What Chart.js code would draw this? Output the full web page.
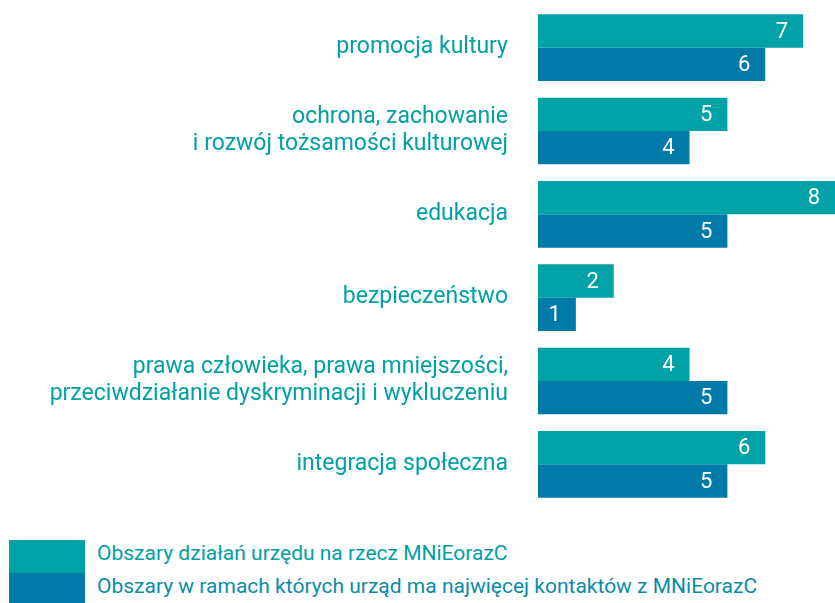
<!DOCTYPE html>
<html>
<head>
<meta charset="utf-8">
<script src="https://cdn.jsdelivr.net/npm/chart.js@4"></script>
<style>
  html, body { margin: 0; padding: 0; background: #fff; }
  body { width: 835px; height: 603px; position: relative; overflow: hidden; font-family: Roboto, sans-serif; }
  #wrap { position: absolute; left: 0; top: 0; width: 835px; height: 512px; }
  .legend { position: absolute; left: 9px; top: 540px; }
  .item { position: relative; height: 33px; }
  .item .box { position: absolute; left: 0; top: 0; width: 76px; height: 100%; }
  .item span { position: absolute; left: 88px; top: 1px; font-size: 21px; white-space: nowrap; }
</style>
</head>
<body>
<div id="wrap"><canvas id="chart"></canvas></div>
<div class="legend" id="legend"></div>

<script>
// data
const categories = [
  "promocja kultury",
  ["ochrona, zachowanie", "i rozwój tożsamości kulturowej"],
  "edukacja",
  "bezpieczeństwo",
  ["prawa człowieka, prawa mniejszości,", "przeciwdziałanie dyskryminacji i wykluczeniu"],
  "integracja społeczna"
];
const activityAreas = [7, 5, 8, 2, 4, 6];
const contactAreas = [6, 4, 5, 1, 5, 5];
const seriesNames = [
  "Obszary działań urzędu na rzecz MNiEorazC",
  "Obszary w ramach których urząd ma najwięcej kontaktów z MNiEorazC"
];
const seriesColors = ["#00A2A6", "#007AA9"];
const textColor = "#00A0A4";

// value labels inside bar ends
const valueLabels = {
  id: "valueLabels",
  afterDatasetsDraw(chart) {
    const ctx = chart.ctx;
    ctx.save();
    ctx.font = "22px Roboto";
    ctx.fillStyle = "#fff";
    ctx.textAlign = "right";
    ctx.textBaseline = "middle";
    chart.data.datasets.forEach((ds, i) => {
      chart.getDatasetMeta(i).data.forEach((bar, j) => {
        const x = Math.min(bar.x, chart.chartArea.right);
        ctx.fillText(ds.data[j], x - 15, bar.y + 1);
      });
    });
    ctx.restore();
  }
};

new Chart(document.getElementById("chart"), {
  type: "bar",
  data: {
    labels: categories,
    datasets: [
      { label: seriesNames[0], data: activityAreas, backgroundColor: seriesColors[0] },
      { label: seriesNames[1], data: contactAreas, backgroundColor: seriesColors[1] }
    ]
  },
  options: {
    indexAxis: "y",
    responsive: true,
    maintainAspectRatio: false,
    animation: false,
    layout: { padding: { top: 6, bottom: 6, left: 0, right: 0 } },
    datasets: { bar: { categoryPercentage: 0.8, barPercentage: 1.0 } },
    plugins: { legend: { display: false }, tooltip: { enabled: false } },
    scales: {
      x: { display: false, min: 0, max: 7.84 },
      y: {
        grid: { display: false },
        border: { display: false },
        afterFit: (scale) => {
          scale.width = 538;
          scale.paddingTop = 0;
          scale.paddingBottom = 0;
        },
        ticks: {
          color: textColor,
          padding: 22,
          font: { family: "Roboto", size: 23, lineHeight: 1.16 }
        }
      }
    }
  },
  plugins: [valueLabels]
});

// legend
const legend = document.getElementById("legend");
seriesNames.forEach((name, i) => {
  const item = document.createElement("div");
  item.className = "item";
  if (i === 1) item.style.height = "30px";
  item.innerHTML = `<div class="box" style="background:${seriesColors[i]}"></div><span style="color:${i ? '#0A8CA7' : textColor}">${name}</span>`;
  legend.appendChild(item);
});
</script>
</body>
</html>
